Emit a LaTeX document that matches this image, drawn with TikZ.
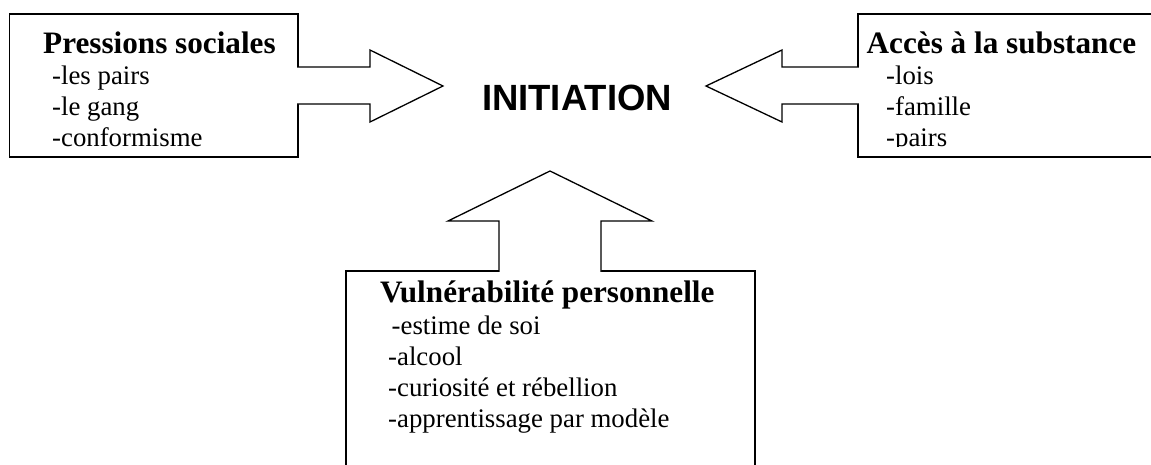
\documentclass[tikz,border=0pt]{standalone}
\usepackage{fontspec}
\setmainfont{Liberation Serif}
\newfontfamily\arialfont{Liberation Sans}
\begin{document}
\begin{tikzpicture}[x=1pt,y=-1pt,
  boxframe/.style={draw=black,line width=1.8pt,fill=white},
  blockarrow/.style={draw=black,line width=1.3pt,fill=white,line join=miter},
  titletext/.style={anchor=base west,inner sep=0pt,font=\fontsize{31.2}{36}\selectfont\bfseries},
  itemtext/.style={anchor=base west,inner sep=0pt,font=\fontsize{26.8}{31}\selectfont},
  maintext/.style={anchor=base,inner sep=0pt,font=\fontsize{36.5}{40}\selectfont\arialfont\bfseries}]
\clip (0,0) rectangle (1151,464);
% boxes
\path[boxframe] (9.5,14) rectangle (298,157);
\coordinate (lbox) at (298,85.5);
\path[boxframe] (858,14) rectangle (1200,157);
\coordinate (rbox) at (858,85.5);
\path[boxframe] (346,271) rectangle (755,520);
\coordinate (bbox) at (550,271);
% arrows
\filldraw[blockarrow] ([xshift=-0.9pt,yshift=18.5pt]lbox) -- (370,67) -- (370,50) -- (443,86) -- (370,122) -- (370,104) -- ([xshift=-0.9pt,yshift=-18.5pt]lbox);
\filldraw[blockarrow] ([xshift=0.9pt,yshift=18.5pt]rbox) -- (782,67) -- (782,50) -- (706,86) -- (782,122) -- (782,104) -- ([xshift=0.9pt,yshift=-18.5pt]rbox);
\filldraw[blockarrow] ([xshift=-51pt,yshift=-0.9pt]bbox) -- (499,221) -- (448,221) -- (550,171) -- (652,221) -- (601,221) -- ([xshift=51pt,yshift=-0.9pt]bbox);
% center
\node[maintext] (init) at (577,110) {INITIATION};
% left text
\node[titletext] (pt) at (43,53.3) {Pressions sociales};
\node[itemtext] (p1) at (52,84) {-les pairs};
\node[itemtext] (p2) at (52,115) {-le gang};
\node[itemtext] (p3) at (52,146.5) {-conformisme};
% right text
\node[titletext] (at) at (866.5,53.3) {Accès à la substance};
\begin{scope}
\clip (858,14) rectangle (1200,146.5);
\node[itemtext] (a1) at (886,84) {-lois};
\node[itemtext] (a2) at (886,115) {-famille};
\node[itemtext] (a3) at (886,146.5) {-pairs};
\end{scope}
% bottom text
\node[titletext] (vt) at (380,302.7) {Vulnérabilité personnelle};
\node[itemtext] (v1) at (391.5,334.5) {-estime de soi};
\node[itemtext] (v2) at (388,365.5) {-alcool};
\node[itemtext] (v3) at (388,396.5) {-curiosité et rébellion};
\node[itemtext] (v4) at (388,427.5) {-apprentissage par modèle};
\end{tikzpicture}
\end{document}
